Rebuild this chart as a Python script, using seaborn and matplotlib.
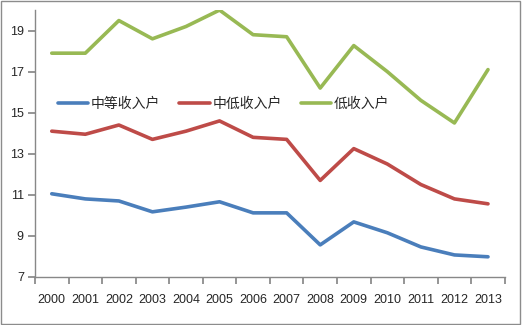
import matplotlib
matplotlib.use("Agg")
import matplotlib.pyplot as plt
import seaborn as sns
import pandas as pd
import numpy as np
from matplotlib.patches import Rectangle

years = ["2000", "2001", "2002", "2003", "2004", "2005", "2006",
         "2007", "2008", "2009", "2010", "2011", "2012", "2013"]
series_names = ["中等收入户", "中低收入户", "低收入户"]
middle = [11.05, 10.8, 10.7, 10.17, 10.4, 10.66, 10.12, 10.12, 8.56, 9.68, 9.15, 8.46, 8.07, 7.98]
lower_middle = [14.1, 13.95, 14.4, 13.7, 14.1, 14.6, 13.8, 13.7, 11.7, 13.25, 12.5, 11.5, 10.8, 10.56]
low = [17.9, 17.9, 19.49, 18.6, 19.2, 20.0, 18.8, 18.7, 16.2, 18.27, 17.0, 15.6, 14.5, 17.1]
yticks = [7, 9, 11, 13, 15, 17, 19]
colors = ["#4a7ebb", "#be4b48", "#98b954"]

sns.set_theme(style="white")
plt.rcParams['font.family'] = ['Noto Sans CJK SC', 'DejaVu Sans']

df = pd.DataFrame({
    "x": list(range(len(years))) * 3,
    "value": middle + lower_middle + low,
    "series": [series_names[0]] * len(years) + [series_names[1]] * len(years) + [series_names[2]] * len(years),
})

fig = plt.figure(figsize=(5.22, 3.25), dpi=100)
ax = fig.add_axes([0.067, 0.148, 0.900, 0.821])
sns.lineplot(data=df, x="x", y="value", hue="series", palette=colors,
             linewidth=2.6, ax=ax, legend=True)

ax.set_xlim(-0.5, len(years) - 0.5)
ax.set_ylim(7, 20)
ax.set_yticks(yticks)
ax.set_yticklabels([str(t) for t in yticks], fontsize=9, family=['Liberation Sans', 'DejaVu Sans'])
ax.set_xticks(np.arange(-0.5, len(years), 1.0))
ax.set_xticklabels([])
ax.set_xticks(range(len(years)), minor=True)
ax.set_xticklabels(years, minor=True, fontsize=9, family=['Liberation Sans', 'DejaVu Sans'])
ax.tick_params(axis='x', which='major', length=5, color='#888888', direction='out', bottom=True)
ax.tick_params(axis='x', which='minor', length=0, pad=12)
ax.tick_params(axis='y', length=5, color='#888888', direction='out', left=True, pad=3)
ax.set_xlabel("")
ax.set_ylabel("")
for s in ["top", "right"]:
    ax.spines[s].set_visible(False)
for s in ["left", "bottom"]:
    ax.spines[s].set_color("#888888")
    ax.spines[s].set_linewidth(1.0)

leg = ax.legend(loc="center left", bbox_to_anchor=(0.022, 0.648), ncol=3, frameon=False,
                fontsize=10, handlelength=2.2, columnspacing=1.35, handletextpad=0.2)
for line in leg.get_lines():
    line.set_linewidth(2.6)

fig.patches.append(Rectangle((0.002, 0.003), 0.995, 0.993, transform=fig.transFigure,
                             fill=False, edgecolor="#8c8c8c", linewidth=1.0))
fig.savefig("out.png", dpi=100)
